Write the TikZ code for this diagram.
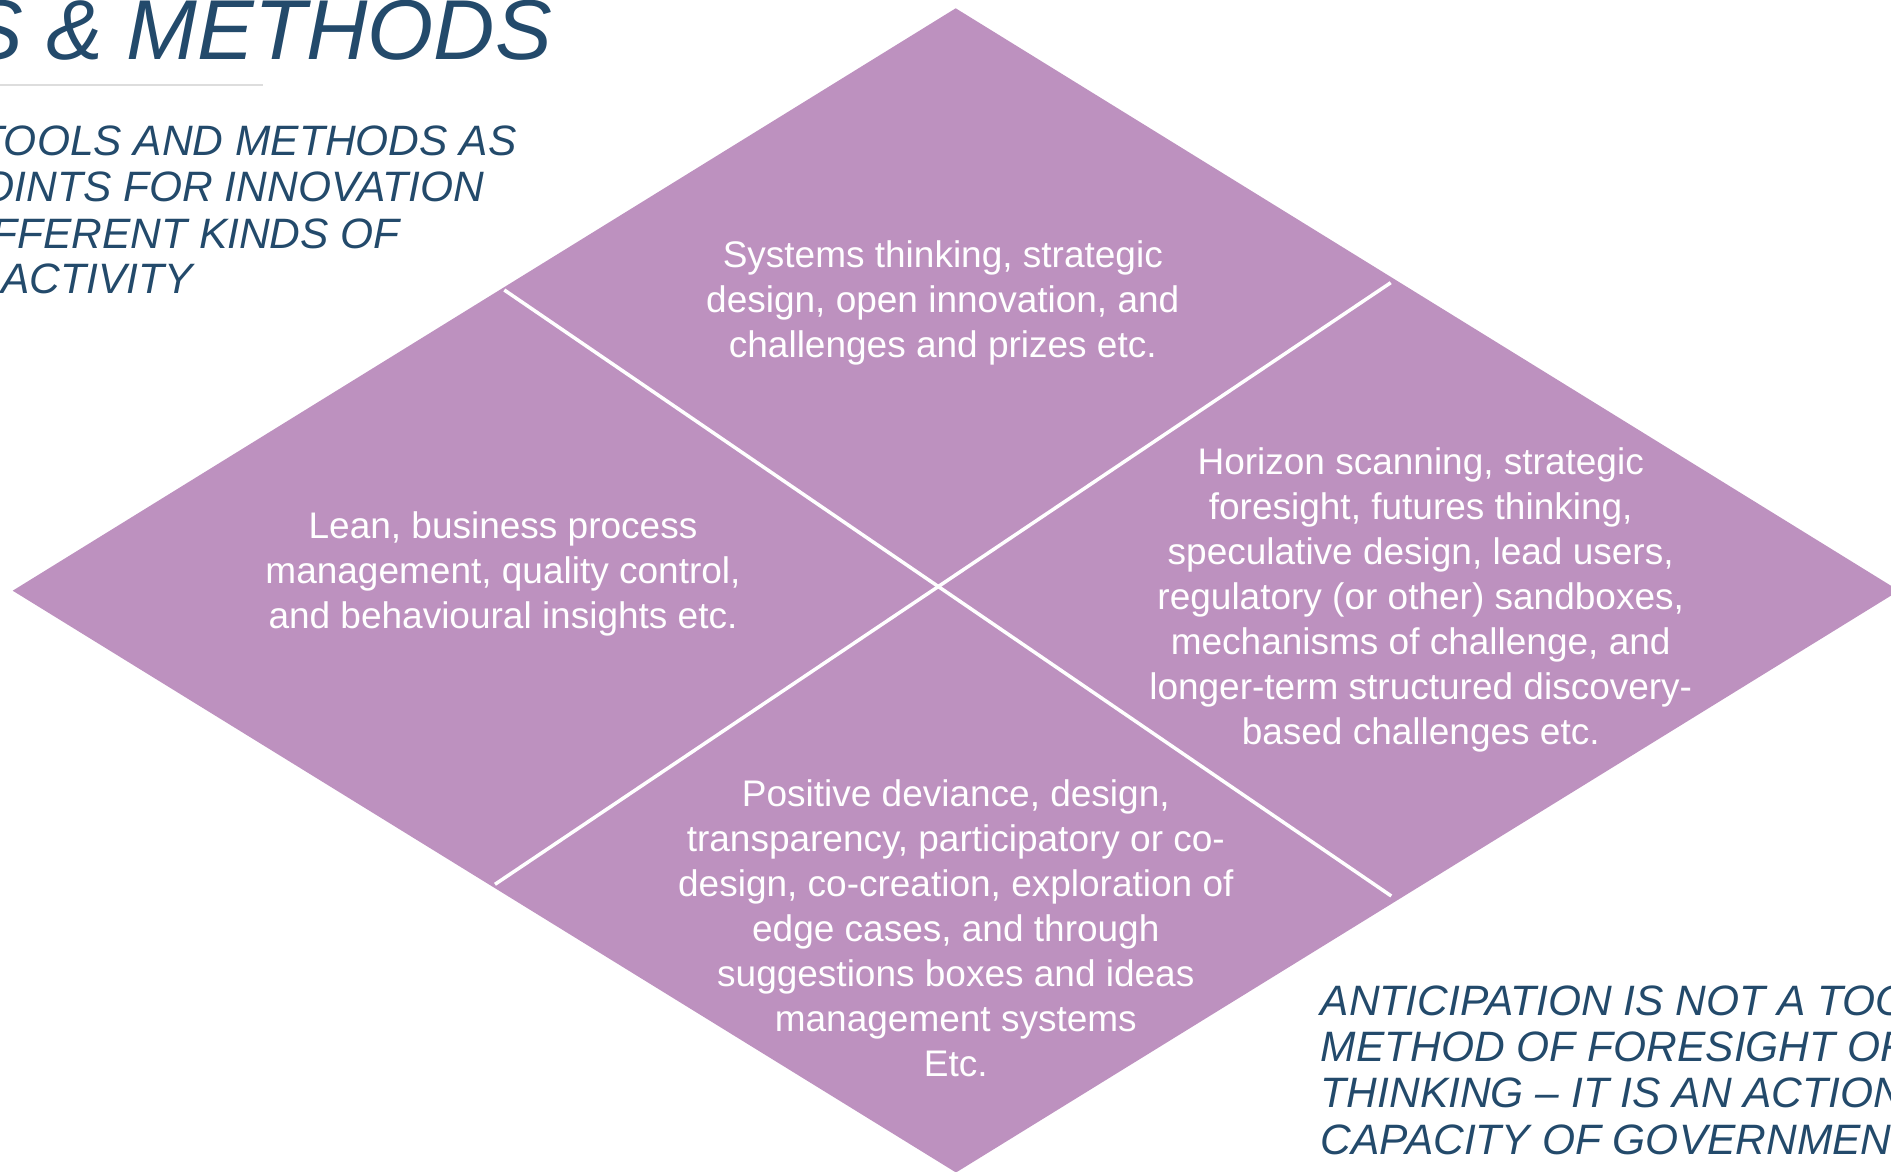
\documentclass[tikz,border=0pt]{standalone}
\usepackage{fontspec}
\setmainfont{Liberation Sans}
\definecolor{quadpurple}{HTML}{BD91BF}
\definecolor{navytext}{HTML}{234A6B}
\definecolor{rulegray}{HTML}{DDDDDD}
\tikzset{
  quad/.style={fill=quadpurple, draw=none},
  divider/.style={draw=white, line width=3.5pt},
  grayrule/.style={draw=rulegray, line width=2pt},
  bodytext/.style={text=white, align=center, inner sep=0pt, font=\fontsize{37}{45}\selectfont},
  headline/.style={text=navytext, inner sep=0pt, font=\itshape\fontsize{85}{90}\selectfont},
  subhead/.style={text=navytext, inner sep=0pt, font=\itshape\fontsize{42.5}{46.5}\selectfont}
}
\begin{document}
\begin{tikzpicture}[x=1pt,y=-1pt]
\useasboundingbox (0,0) rectangle (1891,1172);
\clip (0,0) rectangle (1891,1172);
% diamond
\coordinate (dTop) at (955.7,8.3);
\coordinate (dRight) at (1899,590.7);
\coordinate (dBottom) at (956,1172.5);
\coordinate (dLeft) at (12.7,590.7);
\fill[quad] (dTop) -- (dRight) -- (dBottom) -- (dLeft) -- cycle;
% dividers
\coordinate (aStart) at (504.3,290);
\coordinate (aEnd) at (1391.3,896);
\coordinate (bStart) at (495,884.3);
\coordinate (bEnd) at (1390.7,282.7);
\draw[divider] (aStart) -- (aEnd);
\draw[divider] (bStart) -- (bEnd);
% quadrant texts
\node[bodytext] (qTop) at (942.8,302.5) {Systems thinking, strategic\\design, open innovation, and\\challenges and prizes etc.};
\node[bodytext] (qLeft) at (503,574.2) {Lean, business process\\management, quality control,\\and behavioural insights etc.};
\node[bodytext] (qRight) at (1420.7,599.8) {Horizon scanning, strategic\\foresight, futures thinking,\\speculative design, lead users,\\regulatory (or other) sandboxes,\\mechanisms of challenge, and\\longer-term structured discovery-\\based challenges etc.};
\node[bodytext] (qBottom) at (955.8,928) {Positive deviance, design,\\transparency, participatory or co-\\design, co-creation, exploration of\\edge cases, and through\\suggestions boxes and ideas\\management systems\\Etc.};
% title
\node[headline, anchor=base east] (title) at (552,59.3) {TOOLS \& METHODS};
\coordinate (ruleL) at (-5,85);
\coordinate (ruleR) at (263,85);
\draw[grayrule] (ruleL) -- (ruleR);
% subtitle top-left
\node[subhead, anchor=base east] (s1) at (516.6,155) {TOOLS AND METHODS AS};
\node[subhead, anchor=base east] (s2) at (484,201.7) {POINTS FOR INNOVATION};
\node[subhead, anchor=base east] (s3) at (400,248.3) {DIFFERENT KINDS OF};
\node[subhead, anchor=base east] (s4) at (193,293.5) {ACTIVITY};
% bottom-right statement
\node[subhead, anchor=base west] (r1) at (1320.7,1015) {ANTICIPATION IS NOT A TOOL OR};
\node[subhead, anchor=base west] (r2) at (1320.7,1061.7) {METHOD OF FORESIGHT OR};
\node[subhead, anchor=base west] (r3) at (1320.7,1107.7) {THINKING – IT IS AN ACTION};
\node[subhead, anchor=base west] (r4) at (1320.7,1154.3) {CAPACITY OF GOVERNMENT};
\end{tikzpicture}
\end{document}
